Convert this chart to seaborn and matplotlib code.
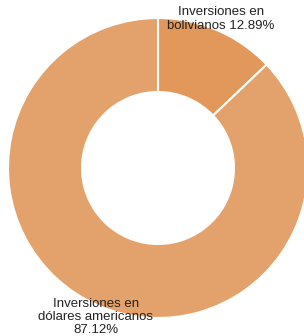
import matplotlib
matplotlib.use("Agg")
import matplotlib.pyplot as plt
import seaborn as sns

# Données du graphique
categorias = ['Inversiones en\nbolivianos', 'Inversiones en\ndólares americanos']
porcentajes = [12.89, 87.12]
colores = ['#E2975B', '#E3A16B']

sns.set_theme(style="white")
plt.rcParams['font.family'] = ['Liberation Sans', 'DejaVu Sans']

fig = plt.figure(figsize=(3.04, 3.36), dpi=100)
ax = fig.add_axes([0, 0, 1, 1])

# Anneau (donut)
wedges, _ = ax.pie(porcentajes, colors=colores, startangle=90, counterclock=False,
                   center=(158, 168), radius=150, frame=True,
                   wedgeprops=dict(width=74, edgecolor='white', linewidth=1.5))
ax.set_xlim(0, 304)
ax.set_ylim(0, 336)
ax.set_aspect('equal')
ax.axis('off')

# Étiquettes
ax.text(221, 317, f"{categorias[0]} {porcentajes[0]:.2f}%", ha='center', va='center',
        fontsize=9.5, color='#222222', linespacing=1.12)
ax.text(96, 19, f"{categorias[1]}\n{porcentajes[1]:.2f}%", ha='center', va='center',
        fontsize=9.5, color='#222222', linespacing=1.12)

fig.savefig("out.png", dpi=100)
